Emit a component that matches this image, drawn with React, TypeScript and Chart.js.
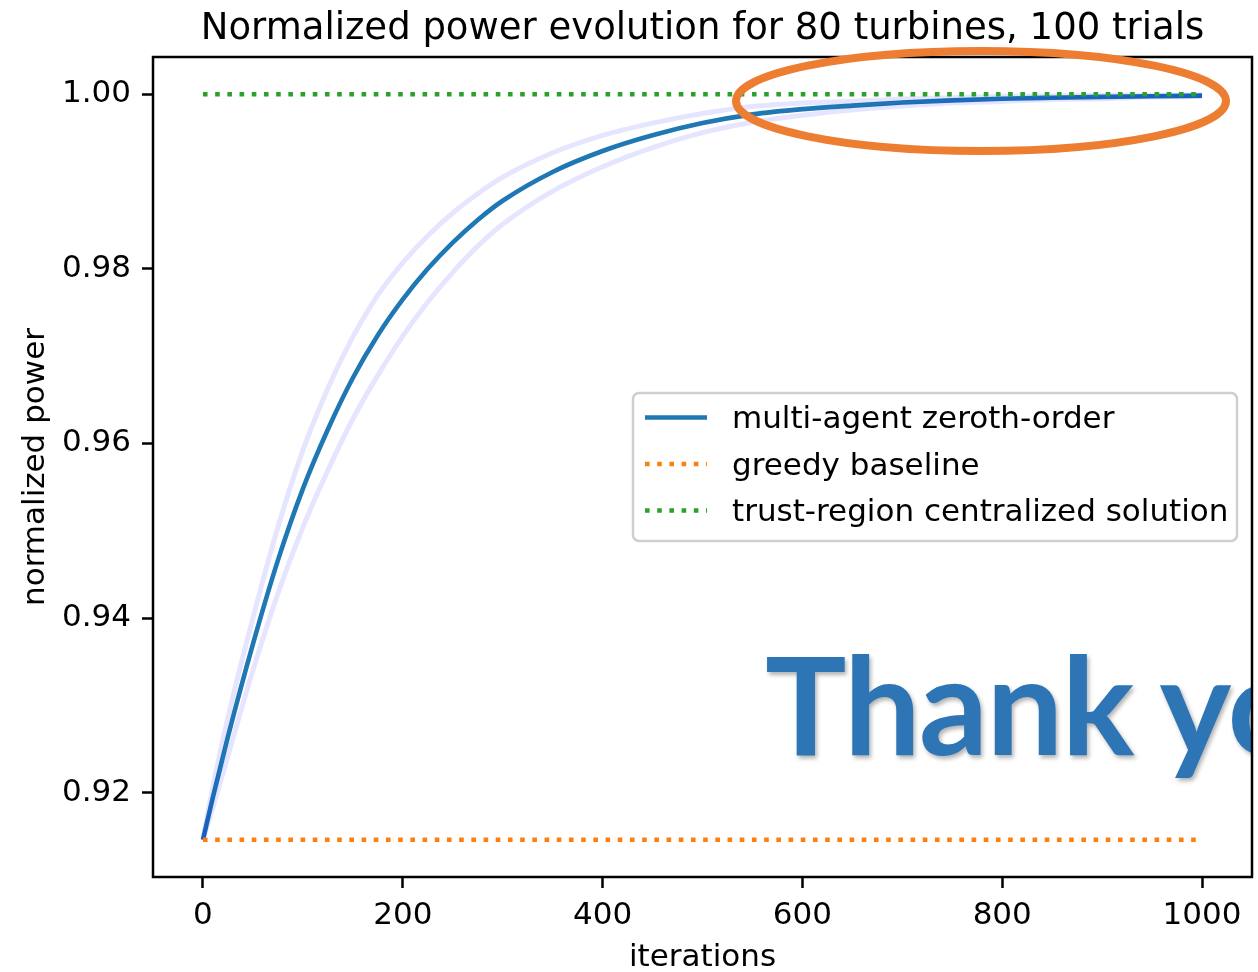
import { useEffect, useRef } from "react";
import { Chart, registerables } from "chart.js";

Chart.register(...registerables);

// Iteration samples and the averaged normalized power over 100 trials
const iterations = [
  0, 10, 25, 50, 75, 100, 125, 150, 175, 200, 225, 250, 275, 300, 350, 400,
  450, 500, 550, 600, 650, 700, 750, 800, 850, 900, 950, 1000,
];
const meanPower = [
  0.9146, 0.9195, 0.9264, 0.937, 0.9466, 0.9548, 0.9616, 0.9675, 0.9724,
  0.9765, 0.98, 0.983, 0.9856, 0.9878, 0.9911, 0.9935, 0.9953, 0.9967,
  0.9977, 0.9983, 0.9987, 0.99905, 0.9993, 0.99948, 0.9996, 0.9997, 0.99978,
  0.99984,
];
// spread across trials: upper and lower envelopes
const upperPower = [
  0.9146, 0.9207, 0.9286, 0.94, 0.9504, 0.9592, 0.9663, 0.9722, 0.977,
  0.9807, 0.9838, 0.9864, 0.9886, 0.9905, 0.9933, 0.9953, 0.9967, 0.9978,
  0.9986, 0.999, 0.9992, 0.99945, 0.9996, 0.99978, 0.9998, 0.9999, 0.99988,
  0.99994,
];
const lowerPower = [
  0.9146, 0.9183, 0.9242, 0.934, 0.9428, 0.9504, 0.9569, 0.9628, 0.9678,
  0.9723, 0.9762, 0.9796, 0.9826, 0.9851, 0.9889, 0.9917, 0.9939, 0.9956,
  0.9968, 0.9976, 0.9982, 0.99865, 0.999, 0.99918, 0.9994, 0.9995, 0.99968,
  0.99974,
];
const greedyBaseline = 0.9146;
const trustRegionSolution = 1.0;
const baselineSpan = [0, 1000];

const xTicks = [0, 200, 400, 600, 800, 1000];
const yTicks = [0.92, 0.94, 0.96, 0.98, 1.0];

const titleText = "Normalized power evolution for 80 turbines, 100 trials";
const xLabel = "iterations";
const yLabel = "normalized power";
const seriesLabels = [
  "multi-agent zeroth-order",
  "greedy baseline",
  "trust-region centralized solution",
];
const closingText = "Thank you";

const FONT = '"DejaVu Sans", sans-serif';
const LW = 4.6;
const DOT = [4.6, 7.6];

const decorations = {
  id: "decorations",
  beforeDraw(chart: any) {
    const { ctx, width, height } = chart;
    ctx.save();
    ctx.fillStyle = "#ffffff";
    ctx.fillRect(0, 0, width, height);
    ctx.restore();
  },
  afterDraw(chart: any) {
    const { ctx, chartArea } = chart;
    const { left, top, right, bottom } = chartArea;
    const cx = (left + right) / 2;
    const cy = (top + bottom) / 2;

    // closing slide text, cut off at the right edge of the axes
    ctx.save();
    ctx.beginPath();
    ctx.rect(0, 0, right, chart.height);
    ctx.clip();
    ctx.font = 'bold 136px Lato, "Open Sans", sans-serif';
    (ctx as any).letterSpacing = "-1.5px";
    (ctx as any).wordSpacing = "-5px";
    ctx.fillStyle = "#2e75b6";
    ctx.textAlign = "left";
    ctx.textBaseline = "alphabetic";
    ctx.shadowColor = "rgba(0,0,0,0.3)";
    ctx.shadowOffsetX = 2;
    ctx.shadowOffsetY = 3;
    ctx.shadowBlur = 4;
    ctx.fillText(closingText, 765, 755);
    ctx.restore();

    // axes frame
    ctx.save();
    ctx.strokeStyle = "#000";
    ctx.lineWidth = 2.5;
    ctx.strokeRect(left, top, right - left, bottom - top);
    ctx.restore();

    // title and axis labels
    ctx.save();
    ctx.fillStyle = "#000";
    ctx.textAlign = "center";
    ctx.textBaseline = "alphabetic";
    ctx.font = `37px ${FONT}`;
    ctx.fillText(titleText, cx, 39);
    ctx.font = `31px ${FONT}`;
    ctx.fillText(xLabel, cx, 966);
    ctx.translate(44, cy);
    ctx.rotate(-Math.PI / 2);
    ctx.fillText(yLabel, 0, 0);
    ctx.restore();

    // legend (center right)
    const items = chart.data.datasets.filter((d: any) => d.label);
    const bx = 633;
    const bw = right - 15 - bx;
    const rowGap = 46.5;
    const bh = 148;
    const by = cy - bh / 2;
    ctx.save();
    ctx.beginPath();
    ctx.roundRect(bx, by, bw, bh, 6);
    ctx.fillStyle = "rgba(255,255,255,0.8)";
    ctx.fill();
    ctx.strokeStyle = "#cfcfcf";
    ctx.lineWidth = 2.5;
    ctx.stroke();
    items.forEach((d: any, i: number) => {
      const ry = by + 24.5 + i * rowGap;
      ctx.beginPath();
      ctx.moveTo(bx + 12, ry);
      ctx.lineTo(bx + 74, ry);
      ctx.strokeStyle = d.borderColor;
      ctx.lineWidth = LW;
      ctx.lineCap = "butt";
      ctx.setLineDash(d.borderDash || []);
      ctx.stroke();
      ctx.setLineDash([]);
      ctx.fillStyle = "#000";
      ctx.font = `31px ${FONT}`;
      ctx.textAlign = "left";
      ctx.textBaseline = "alphabetic";
      ctx.fillText(d.label, bx + 99, ry + 10.5);
    });
    ctx.restore();

    // highlight ring around the converged region
    ctx.save();
    ctx.beginPath();
    ctx.ellipse(981, 101, 245, 50, 0, 0, Math.PI * 2);
    ctx.strokeStyle = "#ed7d31";
    ctx.lineWidth = 8;
    ctx.stroke();
    ctx.restore();
  },
};

export default function App() {
  const canvasRef = useRef<HTMLCanvasElement | null>(null);

  useEffect(() => {
    const canvas = canvasRef.current;
    if (!canvas) return;
    const pts = (ys: number[]) => iterations.map((x, i) => ({ x, y: ys[i] }));
    const flat = (v: number) => baselineSpan.map((x) => ({ x, y: v }));

    const chart = new Chart(canvas, {
      type: "line",
      data: {
        datasets: [
          {
            label: seriesLabels[0],
            data: pts(meanPower),
            borderColor: "#1f77b4",
            borderWidth: LW,
            pointRadius: 0,
            cubicInterpolationMode: "monotone",
            order: 3,
          },
          {
            data: pts(upperPower),
            borderColor: "rgba(0,0,255,0.1)",
            borderWidth: 5,
            pointRadius: 0,
            cubicInterpolationMode: "monotone",
            order: 2,
          },
          {
            data: pts(lowerPower),
            borderColor: "rgba(0,0,255,0.1)",
            borderWidth: 5,
            pointRadius: 0,
            cubicInterpolationMode: "monotone",
            order: 2,
          },
          {
            label: seriesLabels[1],
            data: flat(greedyBaseline),
            borderColor: "#ff7f0e",
            borderWidth: LW,
            borderDash: DOT,
            borderCapStyle: "butt",
            pointRadius: 0,
            order: 1,
          },
          {
            label: seriesLabels[2],
            data: flat(trustRegionSolution),
            borderColor: "#2ca02c",
            borderWidth: LW,
            borderDash: DOT,
            borderCapStyle: "butt",
            pointRadius: 0,
            order: 0,
          },
        ] as any,
      },
      options: {
        responsive: false,
        animation: false,
        devicePixelRatio: 1,
        layout: { padding: { left: 0, right: 6, top: 57, bottom: 0 } },
        plugins: {
          legend: { display: false },
          title: { display: false },
          tooltip: { enabled: false },
        },
        scales: {
          x: {
            type: "linear",
            min: -50,
            max: 1050,
            afterBuildTicks: (s: any) => {
              s.ticks = xTicks.map((value) => ({ value }));
            },
            afterFit: (s: any) => {
              s.height = 95;
            },
            grid: {
              drawOnChartArea: false,
              drawTicks: true,
              tickLength: 11,
              tickWidth: 2.5,
              tickColor: "#000",
            },
            border: { display: false },
            ticks: {
              color: "#000",
              font: { family: FONT, size: 31 },
              padding: 9,
              maxRotation: 0,
              autoSkip: false,
              callback: (v: any) => String(v),
            },
          },
          y: {
            type: "linear",
            min: 0.91033,
            max: 1.00427,
            afterBuildTicks: (s: any) => {
              s.ticks = yTicks.map((value) => ({ value }));
            },
            afterFit: (s: any) => {
              s.width = 153;
            },
            grid: {
              drawOnChartArea: false,
              drawTicks: true,
              tickLength: 11,
              tickWidth: 2.5,
              tickColor: "#000",
            },
            border: { display: false },
            ticks: {
              color: "#000",
              font: { family: FONT, size: 31 },
              padding: 11,
              autoSkip: false,
              callback: (v: any) => Number(v).toFixed(2),
            },
          },
        },
      },
      plugins: [decorations],
    });

    return () => chart.destroy();
  }, []);

  return (
    <div style={{ position: "fixed", left: 0, top: 0, width: 1258, height: 972, background: "#fff" }}>
      <canvas ref={canvasRef} width={1258} height={972} />
    </div>
  );
}
